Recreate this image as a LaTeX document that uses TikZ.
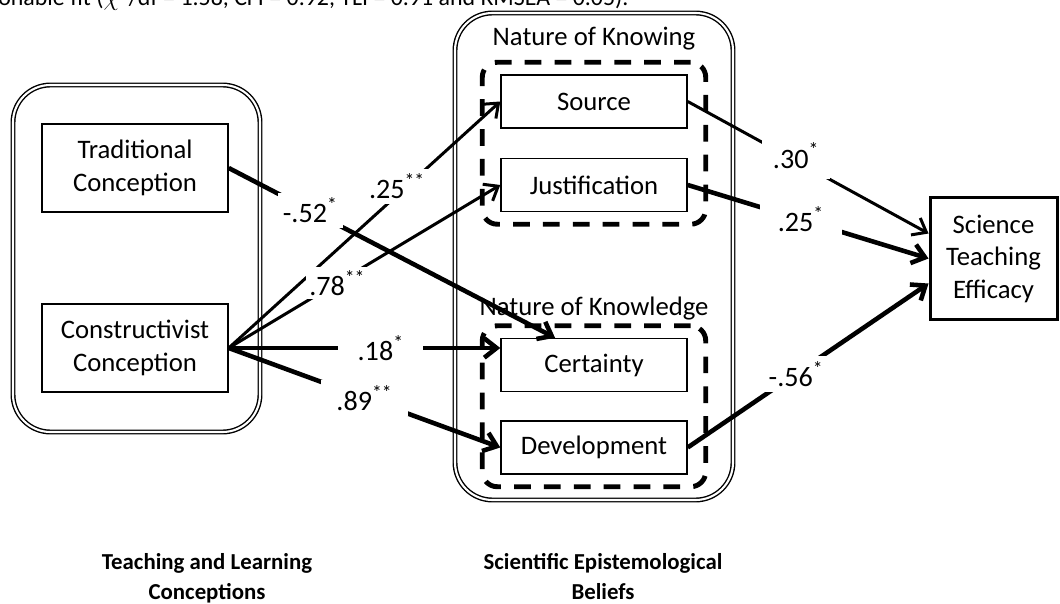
\documentclass[tikz,border=0pt]{standalone}
\usepackage{fontspec}
\setmainfont{Carlito}
\usetikzlibrary{positioning,fit,arrows.meta}

\newcommand{\diagfont}{\fontsize{15.2pt}{18.5pt}\selectfont}
\newcommand{\onestar}{\textsuperscript{*}}
\newcommand{\twostar}{\textsuperscript{**}}

\begin{document}
\begin{tikzpicture}[x=0.02cm,y=-0.02cm,font=\diagfont,
    box/.style={draw,line width=0.85pt,align=center,minimum width=3.72cm},
    concept/.style={box,minimum height=1.76cm},
    belief/.style={box,minimum height=1.06cm},
    group/.style={draw,double,line width=0.8pt,double distance=1.2pt,rounded corners=0.75cm},
    dashgroup/.style={draw,line width=2.8pt,dash pattern=on 9.5pt off 7.5pt,
        rounded corners=0.3cm,inner xsep=0.36cm,inner ysep=0.24cm},
    title/.style={font=\fontsize{13pt}{17pt}\selectfont\bfseries,align=center,anchor=north},
    link/.style={line width=1.7pt,-{Straight Barb[length=7pt,width=11pt]}},
    thicklink/.style={link,line width=2.6pt},
    coef/.style={fill=white,inner xsep=6pt,inner ysep=3pt,font=\fontsize{16pt}{19pt}\selectfont}]

\useasboundingbox (0,0) rectangle (1060,604);
\clip (0,0) rectangle (1060,604);

% caption line cut by the page
\node[anchor=base west,inner sep=0,font=\fontsize{13.6pt}{16pt}\selectfont] (caption) at (-2,6)
    {onable fit ($\chi^2$/df = 1.58, CFI = 0.92, TLI = 0.91 and RMSEA = 0.05).};

% Teaching and learning conceptions
\draw[group] (13,85) rectangle (260,432);

\node[concept] (trad) at (135,168) {Traditional\\Conception};
\node[concept] (con) at (135,348) {Constructivist\\Conception};

% Scientific epistemological beliefs
\draw[group] (455,13) rectangle (733,500);

\node[belief] (source) at (594,101.5) {Source};
\node[belief,
    below=0.58cm of source
] (just) {Justification};

\node[belief] (cert) at (594,365) {Certainty};
\node[belief,
    below=0.56cm of cert
] (dev) {Development};

\node[dashgroup,fit=(source)(just)] (knowing) {};
\node[dashgroup,fit=(cert)(dev)] (knowledge) {};

\node[above=0.08cm of knowing] (knowinglabel) {Nature of Knowing};
\node[above=-0.06cm of knowledge] (knowledgelabel) {Nature of Knowledge};

% Outcome
\node[draw,
    line width=1.7pt,
    align=center,
    minimum width=2.54cm,
    minimum height=2.46cm
] (ste) at (993.5,258.5) {Science\\Teaching\\Efficacy};

% Group titles
\node[title] (tlctitle) at (207,547) {Teaching and Learning\\Conceptions};
\node[title] (sebtitle) at (603,547) {Scientific Epistemological\\Beliefs};

% Arrows
\draw[thicklink] (trad.east) -- node[coef,pos=0.25,inner xsep=3pt] {-.52\onestar} ([xshift=-0.78cm]cert.north);
\draw[link] (con.east) -- node[coef,pos=0.62,yshift=5pt] {.25\twostar} (source.west);
\draw[link] (con.east) -- node[coef,pos=0.4,inner sep=2pt] {.78\twostar} (just.west);
\draw[thicklink] (con.east) -- node[coef,pos=0.56,inner xsep=11pt] {.18\onestar} (cert.west |- con.east);
\draw[thicklink] (con.east) -- node[coef,pos=0.5,inner xsep=9pt] {.89\twostar} (dev.west);

\draw[link] (source.east) -- node[coef,pos=0.45,inner ysep=6pt,yshift=3pt] {.30\onestar} ([yshift=0.5cm]ste.west);
\draw[thicklink] (just.east) -- node[coef,pos=0.47,inner xsep=10pt,inner ysep=5pt] {.25\onestar} (ste.west);
\draw[thicklink] (dev.east) -- node[coef,pos=0.45] {-.56\onestar} ([yshift=-0.5cm]ste.west);

\end{tikzpicture}
\end{document}
